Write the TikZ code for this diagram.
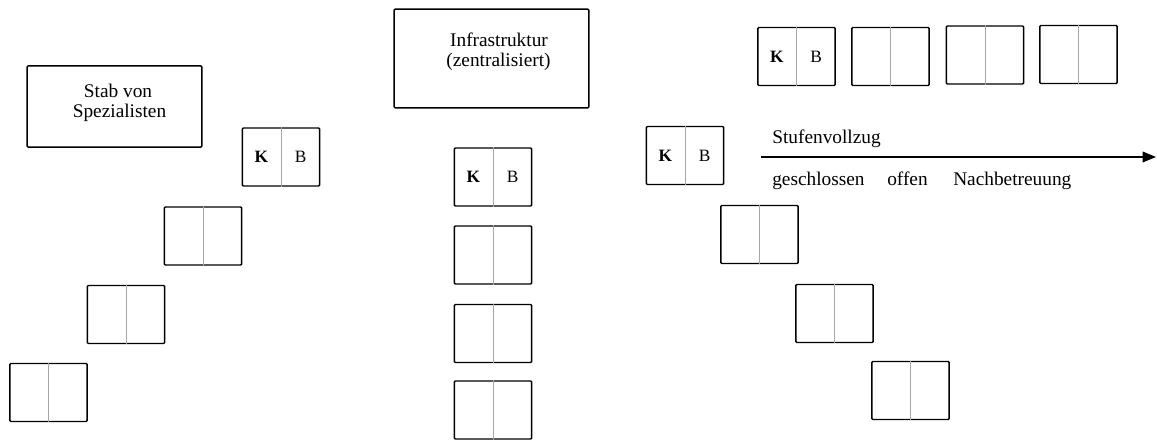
\documentclass[tikz,border=0pt]{standalone}
\usepackage{fontspec}
\setmainfont{Liberation Serif}
\usetikzlibrary{arrows.meta,calc}
\tikzset{
  card/.style={draw, line width=1.1pt, rounded corners=0.8pt, minimum width=58pt, minimum height=43.5pt, inner sep=0pt},
  bigbox/.style={draw, line width=1.1pt, rounded corners=0.8pt, inner sep=0pt},
  divider/.style={draw=black!35, line width=0.4pt},
  lbl/.style={font=\fontsize{14.5}{17}\selectfont, inner sep=0pt},
  kb/.style={font=\fontsize{13}{16}\selectfont, inner sep=0pt},
  flow/.style={line width=1pt, -{Triangle[length=10pt,width=8pt]}}
}
\newcommand\mycard[2]{%
  \node[card] (#1) at (#2) {};
  \draw[divider] (#1.north) -- (#1.south);}
\newcommand\mykb[1]{%
  \node[kb] (#1K) at ($(#1.center)!0.5!(#1.west)$) {\bfseries K};
  \node[kb] (#1B) at ($(#1.center)!0.5!(#1.east)$) {B};}
\begin{document}
\begin{tikzpicture}[x=0.75pt, y=-0.75pt]
\useasboundingbox (0,0) rectangle (1157,441);
% left group
\node[bigbox, minimum width=131pt, minimum height=61pt] (stab) at (114.5,106.5) {};
\node[lbl, anchor=base] (stab1) at (118,98) {Stab von};
\node[lbl, anchor=base] (stab2) at (119.5,118) {Spezialisten};
\mycard{l1}{281,157}\mykb{l1}
\mycard{l2}{203,236}
\mycard{l3}{126,314.5}
\mycard{l4}{48.5,392.5}
% middle group
\node[bigbox, minimum width=146pt, minimum height=74pt] (infra) at (491.5,58.5) {};
\node[lbl, anchor=base] (infra1) at (499,47) {Infrastruktur};
\node[lbl, anchor=base] (infra2) at (498.5,67) {(zentralisiert)};
\mycard{m1}{493,177}\mykb{m1}
\mycard{m2}{493,255}
\mycard{m3}{493,333.5}
\mycard{m4}{493,410}
% right group, top row
\mycard{t1}{796.5,56.5}\mykb{t1}
\mycard{t2}{890.5,56.5}
\mycard{t3}{985,55}
\mycard{t4}{1078.5,54.5}
% right group, diagonal
\mycard{r1}{685,155.5}\mykb{r1}
\mycard{r2}{759.5,234.5}
\mycard{r3}{834.5,313.5}
\mycard{r4}{910.5,390.5}
% arrow
\coordinate (aS) at (761,157);
\coordinate (aE) at (1156,157);
\draw[flow] (aS) -- (aE);
\node[lbl, anchor=base west] (stufe) at (772,144) {Stufenvollzug};
\node[lbl, anchor=base west] (gesch) at (772,186) {geschlossen};
\node[lbl, anchor=base west] (offen) at (887,186) {offen};
\node[lbl, anchor=base west] (nach) at (953,186) {Nachbetreuung};
\end{tikzpicture}
\end{document}
